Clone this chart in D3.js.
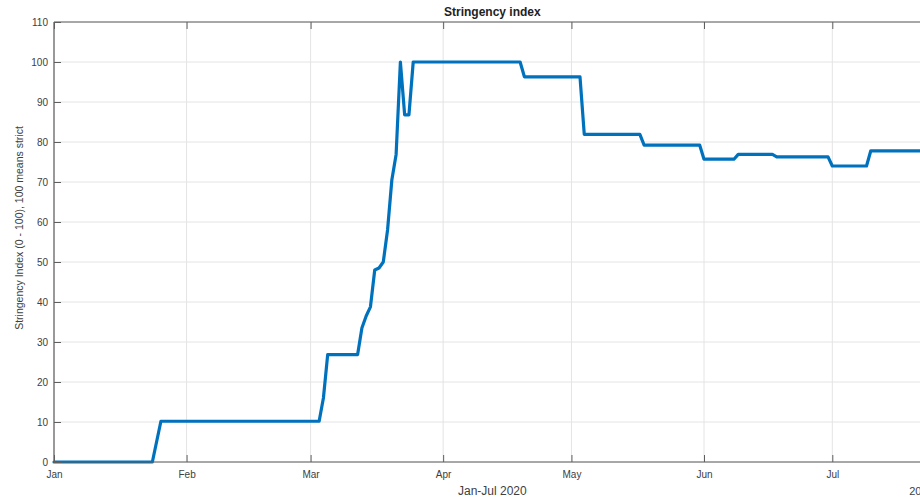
<!DOCTYPE html>
<html>
<head>
<meta charset="utf-8">
<script src="https://cdn.jsdelivr.net/npm/d3@7"></script>
<style>
  html, body { margin: 0; padding: 0; background: #fff; }
  svg { display: block; font-family: "Liberation Sans", Arial, Helvetica, sans-serif; }
</style>
</head>
<body>
<svg id="chart" width="920" height="501"></svg>
<script>
// ---- data (change points of the daily stringency index, 2020) ----
const dates = [
  "2020-01-01","2020-01-24","2020-01-26","2020-03-03","2020-03-04","2020-03-05",
  "2020-03-12","2020-03-13","2020-03-14","2020-03-15","2020-03-16","2020-03-17",
  "2020-03-18","2020-03-19","2020-03-20","2020-03-21","2020-03-22","2020-03-23",
  "2020-03-24","2020-03-25","2020-04-19","2020-04-20","2020-05-03","2020-05-04",
  "2020-05-17","2020-05-18","2020-05-31","2020-06-01","2020-06-08","2020-06-09",
  "2020-06-17","2020-06-18","2020-06-30","2020-07-01","2020-07-09","2020-07-10",
  "2020-07-24"
];
const values = [
  0, 0, 10.19, 10.19, 16, 26.85,
  26.85, 33.5, 36.5, 38.8, 48, 48.5,
  50, 58, 70.5, 76.9, 100, 86.8,
  86.8, 100, 100, 96.3, 96.3, 81.9,
  81.9, 79.2, 79.2, 75.7, 75.7, 76.9,
  76.9, 76.3, 76.3, 74, 74, 77.8,
  77.8
];
const yTicks = [0,10,20,30,40,50,60,70,80,90,100,110];
const xDomain = ["2020-01-01", "2020-07-24"];
const titleText = "Stringency index";
const xLabelText = "Jan-Jul 2020";
const yLabelText = "Stringency Index (0 - 100), 100 means strict";
const yearText = "2020";

// ---- layout ----
const mLeft = 54, mTop = 22, mBottom = 462, mRight = 54 + 205 * 4.2764;
const parse = d3.utcParse("%Y-%m-%d");
const data = dates.map((d, i) => ({ date: parse(d), value: values[i] }));

const x = d3.scaleUtc().domain(xDomain.map(parse)).range([mLeft, mRight]);
const y = d3.scaleLinear().domain([0, 110]).range([mBottom, mTop]);

const svg = d3.select("#chart");
const textColor = "#404040";
const axisColor = "#5e5e5e";
const gridColor = "#e4e4e4";

const monthTicks = d3.utcMonth.range(parse("2020-01-01"), parse("2020-07-25"));

// grid
const grid = svg.append("g");
grid.selectAll("line.h").data(yTicks).join("line")
  .attr("x1", mLeft).attr("x2", mRight)
  .attr("y1", d => y(d)).attr("y2", d => y(d))
  .attr("stroke", gridColor).attr("stroke-width", 1);
grid.selectAll("line.v").data(monthTicks).join("line")
  .attr("x1", d => x(d)).attr("x2", d => x(d))
  .attr("y1", mTop).attr("y2", mBottom)
  .attr("stroke", gridColor).attr("stroke-width", 1);

// data line
const line = d3.line().x(d => x(d.date)).y(d => y(d.value));
svg.append("path").datum(data)
  .attr("d", line)
  .attr("fill", "none")
  .attr("stroke", "#0072BD")
  .attr("stroke-width", 3.2)
  .attr("stroke-linejoin", "round")
  .attr("stroke-linecap", "round");

// axes
const xAxis = d3.axisBottom(x).tickValues(monthTicks)
  .tickFormat(d3.utcFormat("%b")).tickSize(-7).tickPadding(9);
const gx = svg.append("g").attr("transform", `translate(0,${mBottom})`).call(xAxis);

const xTopAxis = d3.axisTop(x).tickValues(monthTicks).tickFormat("").tickSize(-7);
const gxt = svg.append("g").attr("transform", `translate(0,${mTop})`).call(xTopAxis);

const yAxis = d3.axisLeft(y).tickValues(yTicks).tickSize(-7).tickPadding(6);
const gy = svg.append("g").attr("transform", `translate(${mLeft},0)`).call(yAxis);

[gx, gxt, gy].forEach(g => {
  g.select(".domain").remove();
  g.selectAll(".tick line").attr("stroke", axisColor);
  g.selectAll(".tick text").attr("fill", textColor)
    .style("font-size", "10px")
    .style("font-family", "'Liberation Sans', Arial, sans-serif");
});

// box lines
const box = [
  [mLeft, mTop, mLeft, mBottom],
  [mLeft, mBottom, mRight, mBottom],
  [mLeft, mTop, mRight, mTop],
  [mRight, mTop, mRight, mBottom]
];
svg.append("g").selectAll("line").data(box).join("line")
  .attr("x1", d => d[0]).attr("y1", d => d[1]).attr("x2", d => d[2]).attr("y2", d => d[3])
  .attr("stroke", axisColor).attr("stroke-width", 1.2);

// title and labels
svg.append("text").attr("x", (mLeft + mRight) / 2).attr("y", 16)
  .attr("text-anchor", "middle").attr("font-size", 12).attr("font-weight", "bold")
  .attr("fill", "#222").text(titleText);

svg.append("text").attr("x", (mLeft + mRight) / 2).attr("y", 495)
  .attr("text-anchor", "middle").attr("font-size", 12)
  .attr("fill", textColor).text(xLabelText);

svg.append("text").attr("x", mRight + 3).attr("y", 495)
  .attr("text-anchor", "end").attr("font-size", 11)
  .attr("fill", textColor).text(yearText);

svg.append("text")
  .attr("transform", "translate(23,228) rotate(-90)")
  .attr("text-anchor", "middle").attr("font-size", 10.5)
  .attr("fill", textColor).text(yLabelText);
</script>
</body>
</html>
